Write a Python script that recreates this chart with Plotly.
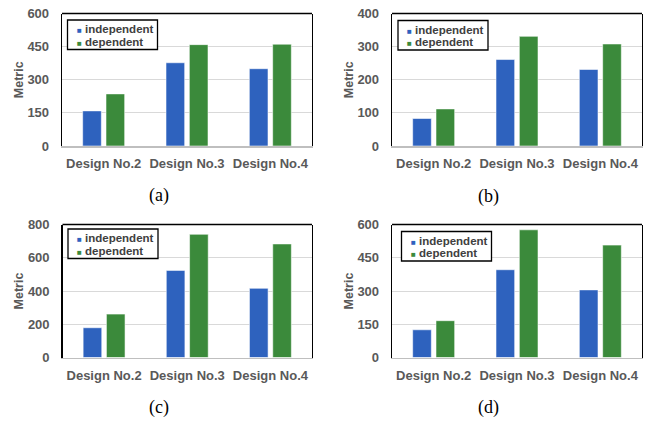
import plotly.graph_objects as go

W, H = 651, 422

categories = ["Design No.2", "Design No.3", "Design No.4"]
series_names = ["independent", "dependent"]

a_independent = [159, 377, 350]
a_dependent = [236, 459, 461]
b_independent = [83, 261, 231]
b_dependent = [112, 331, 308]
c_independent = [179, 524, 416]
c_dependent = [261, 741, 683]
d_independent = [125, 396, 305]
d_dependent = [166, 576, 507]

y_ranges = [[0, 600], [0, 400], [0, 800], [0, 600]]
y_dticks = [150, 100, 200, 150]
captions = ["(a)", "(b)", "(c)", "(d)"]
y_title = "Metric"

panels = [
    (a_independent, a_dependent),
    (b_independent, b_dependent),
    (c_independent, c_dependent),
    (d_independent, d_dependent),
]

colors = ["#2E62BE", "#3B8A3B"]

# layout geometry in window pixels: (x0, x1, ytop, ybottom)
boxes = [
    (62, 312, 13.5, 146),
    (392, 642, 13.5, 146),
    (62.5, 312, 224.5, 357.5),
    (392, 642, 224.5, 357.5),
]
legend_pos = [(67.5, 20), (398, 20.5), (68, 229), (401.5, 231.5)]
LEG_W, LEG_H = 90, 29.5
caption_pos = [(159, 195), (488.5, 196), (159, 407), (488.5, 407.5)]


def px(x):
    return x / W


def py(y):
    return 1 - y / H


FONT = "Liberation Sans"
TICK_COLOR = "#595959"

fig = go.Figure()
layout = dict(
    width=W, height=H,
    margin=dict(l=0, r=0, t=0, b=0),
    paper_bgcolor="white", plot_bgcolor="white",
    barmode="group", bargap=0.44, bargroupgap=0.2,
    showlegend=False, hovermode=False,
    annotations=[], shapes=[],
)

for i, (ind, dep) in enumerate(panels):
    n = "" if i == 0 else str(i + 1)
    xa, ya = "x" + n, "y" + n
    for s, vals in enumerate([ind, dep]):
        fig.add_trace(go.Bar(
            x=categories, y=vals, name=series_names[s],
            marker=dict(color=colors[s], line=dict(color="rgba(255,255,255,0.55)", width=1)),
            xaxis=xa, yaxis=ya, showlegend=False,
        ))
    x0, x1, yt, yb = boxes[i]
    layout["xaxis" + n] = dict(
        domain=[px(x0), px(x1)], anchor=ya, type="category", automargin=False,
        showline=True, linecolor="#BFBFBF", linewidth=1.5,
        showgrid=False, ticks="", ticklabelstandoff=5, ticklabeloverflow="allow",
        tickfont=dict(family=FONT, size=13, color=TICK_COLOR, weight="bold"),
        fixedrange=True,
    )
    layout["yaxis" + n] = dict(
        domain=[py(yb), py(yt)], anchor=xa, automargin=False,
        range=y_ranges[i], dtick=y_dticks[i], tick0=0,
        showline=True, mirror=True, linecolor="black", linewidth=1.3,
        showgrid=True, gridcolor="#D9D9D9", gridwidth=1, zeroline=False,
        ticks="", ticklabelstandoff=9, ticklabeloverflow="allow",
        tickfont=dict(family=FONT, size=13, color=TICK_COLOR, weight="bold"),
        title=dict(text=y_title, standoff=1,
                   font=dict(family=FONT, size=12.5, color=TICK_COLOR, weight="bold")),
        fixedrange=True,
    )
    layout["shapes"].append(dict(
        type="line", xref=xa + " domain", yref=ya + " domain",
        x0=0, x1=1, y0=1, y1=1, line=dict(color="black", width=1.3),
    ))
    # legend box
    lx, ly = legend_pos[i]
    layout["shapes"].append(dict(
        type="rect", xref="paper", yref="paper",
        x0=px(lx), x1=px(lx + LEG_W), y0=py(ly + LEG_H), y1=py(ly),
        line=dict(color="black", width=1.3), fillcolor="white", layer="above",
    ))
    for k in range(2):
        layout["annotations"].append(dict(
            text=f"<span style='color:{colors[k]};font-size:8px'>■</span> {series_names[k]}",
            xref="paper", yref="paper",
            x=px(lx + 7), y=py(ly + 9.2 + 12.7 * k), xanchor="left", yanchor="middle",
            align="left", showarrow=False,
            font=dict(family=FONT, size=11.5, color="#404040", weight="bold"),
        ))
    cx, cy = caption_pos[i]
    layout["annotations"].append(dict(
        text=captions[i], xref="paper", yref="paper",
        x=px(cx), y=py(cy), xanchor="center", yanchor="middle",
        showarrow=False,
        font=dict(family="Liberation Serif", size=18, color="black"),
    ))

fig.update_layout(**layout)
fig.write_html("out.html", config={"displayModeBar": False, "staticPlot": True},
               post_script="document.body.style.margin='0px';")
